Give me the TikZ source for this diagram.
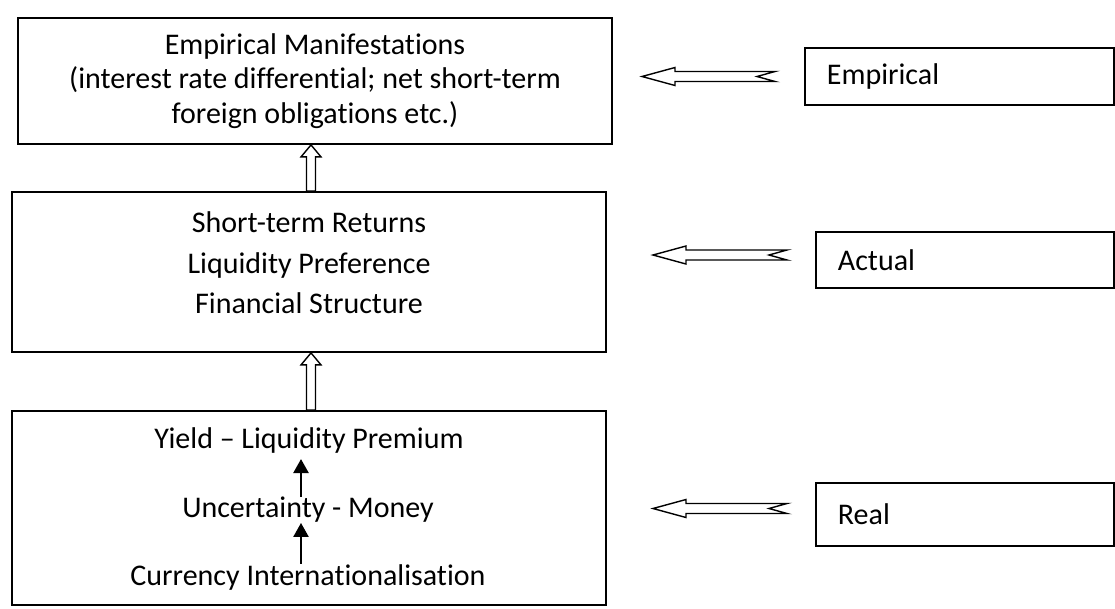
\documentclass[tikz,border=0pt]{standalone}
\usepackage{fontspec}
\setmainfont[Ligatures={TeX,NoCommon}]{Carlito}
\usetikzlibrary{calc,arrows.meta}

\tikzset{
  mainbox/.style={draw, line width=1.8pt, minimum width=594pt, inner sep=0pt,
    font=\fontsize{30}{34.5}\selectfont, align=center},
  tagbox/.style={draw, line width=1.8pt, anchor=west, align=left, inner xsep=22pt,
    inner ysep=0pt, text width=254pt, font=\fontsize{30}{34.5}\selectfont},
  txt/.style={inner sep=0pt, align=center, font=\fontsize{30}{40.5}\selectfont},
  fatline/.style={draw, line width=1.4pt, fill=white, line join=miter},
  thinarrow/.style={line width=2.4pt, -{Triangle[width=15pt,length=14pt]}}
}

% hollow arrow pointing left, notched tail: #1 tail, #2 tip
\newcommand{\leftfat}[2]{
  \draw[fatline] let \p1=(#1), \p2=(#2) in
    (\p2) -- (\x2+33pt,\y2+9pt) -- (\x2+33pt,\y2+5pt) -- (\x1,\y2+5pt)
    -- (\x1-18pt,\y2) -- (\x1,\y2-5pt) -- (\x2+33pt,\y2-5pt) -- (\x2+33pt,\y2-9pt) -- cycle;
}
% hollow arrow pointing up: #1 tail, #2 tip
\newcommand{\upfat}[2]{
  \draw[fatline] let \p1=(#1), \p2=(#2) in
    (\p2) -- (\x2+10pt,\y2-12pt) -- (\x2+4.5pt,\y2-12pt) -- (\x2+4.5pt,\y1)
    -- (\x2-4.5pt,\y1) -- (\x2-4.5pt,\y2-12pt) -- (\x2-10pt,\y2-12pt) -- cycle;
}

\begin{document}
\begin{tikzpicture}[x=1pt, y=-1pt]

\useasboundingbox[fill=white] (0,0) rectangle (1115,608);

% left column
\node[mainbox, minimum height=126pt] (manif) at (315,81)
  {Empirical Manifestations\\(interest rate differential; net short-term\\foreign obligations etc.)};
\node[mainbox, minimum height=160pt] (actbox) at (309,272) {};
\node[txt] (acttext) at (309,263) {Short-term Returns\\Liquidity Preference\\Financial Structure};
\node[mainbox, minimum height=194pt] (realbox) at (309,508) {};

\node[txt] (yield) at (309,440) {Yield – Liquidity Premium};
\node[txt] (uncert) at (308,510) {Uncertainty - Money};
\node[txt] (curr) at (308,577) {Currency Internationalisation};

\coordinate (spine) at (311,0);
\coordinate (arrx) at (301,0);

\draw[thinarrow] (curr.north -| arrx) -- (uncert.south -| arrx);
\draw[thinarrow] (uncert.north -| arrx) -- ([yshift=-6pt]yield.south -| arrx);

\upfat{actbox.north -| spine}{manif.south -| spine}
\upfat{realbox.north -| spine}{actbox.south -| spine}

% right column
\node[tagbox, text width=265pt, minimum height=57pt] (emp) at (804,76.5) {Empirical};
\node[tagbox, minimum height=56pt] (act) at (815,260) {Actual};
\node[tagbox, minimum height=63pt] (real) at (815,514.5) {Real};

\leftfat{[xshift=-29pt]emp.west}{[xshift=-162pt]emp.west}
\leftfat{[xshift=-28pt,yshift=5pt]act.west}{[xshift=-162pt,yshift=5pt]act.west}
\leftfat{[xshift=-28pt,yshift=6pt]real.west}{[xshift=-162pt,yshift=6pt]real.west}

\end{tikzpicture}
\end{document}
